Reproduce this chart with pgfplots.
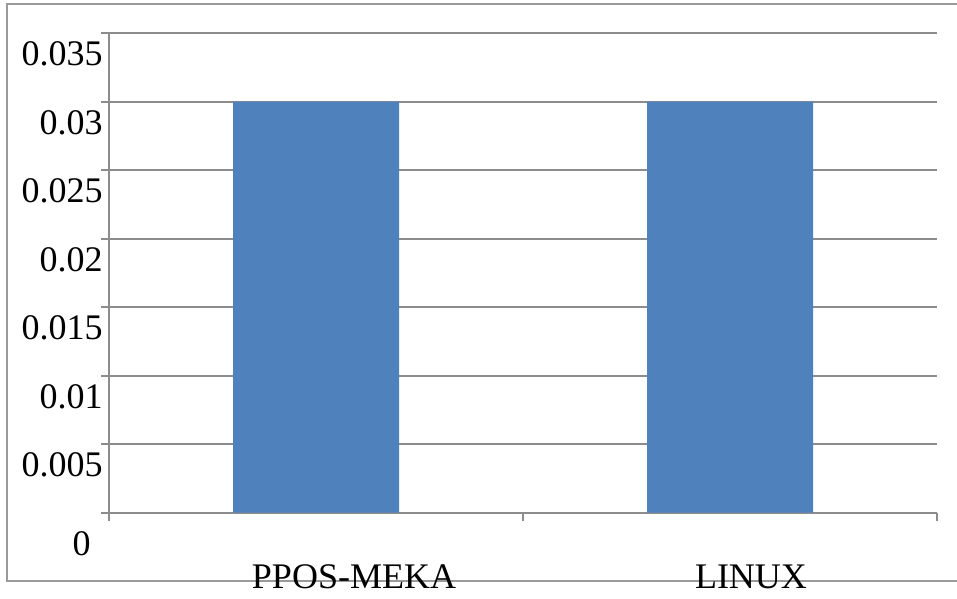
\documentclass[border=0pt]{standalone}
\usepackage{fontspec}
\setmainfont{Liberation Serif}
\usepackage{pgfplots}
\pgfplotsset{compat=1.18}
\definecolor{barblue}{HTML}{4F81BD}
\definecolor{gridgray}{HTML}{8C8C8C}
\definecolor{bordergray}{HTML}{9A9A9A}
\begin{document}
\begin{tikzpicture}
\useasboundingbox (0,0) rectangle (478.5bp,299.5bp);
\draw[bordergray, line width=1bp] (3.5bp,9.15bp) rectangle (490bp,297.5bp);
\begin{axis}[
  at={(54.5bp,43.15bp)}, anchor=south west,
  scale only axis, width=414bp, height=239.85bp,
  xmin=-0.5, xmax=1.5, ymin=0, ymax=0.035,
  axis x line=bottom, axis y line=left,
  axis line style={gridgray, line width=1bp, -},
  ytick={0.005,0.01,0.015,0.02,0.025,0.03,0.035},
  ymajorgrids, grid style={gridgray, line width=1bp},
  scaled y ticks=false,
  /pgf/number format/assume math mode=true,
  /pgf/number format/fixed, /pgf/number format/precision=3,
  tick align=outside,
  major tick length=4bp,
  tick style={gridgray, line width=1bp},
  ticklabel style={font=\fontsize{18.07pt}{21pt}\selectfont, text=black},
  yticklabel style={anchor=east, inner xsep=0pt, xshift=1bp, yshift=-10.5bp},
  extra y ticks={0}, extra y tick labels={0},
  extra y tick style={yticklabel style={xshift=-6bp, yshift=-5bp}},
  xtick={0.0918,1.0507},
  xticklabels={PPOS-MEKA,LINUX},
  xtick style={draw=none},
  xticklabel style={anchor=base, yshift=-34bp},
  extra x ticks={-0.5,0.5,1.5}, extra x tick labels={},
  extra x tick style={xtick style={draw=gridgray}, major tick length=4bp, xmajorgrids=false},
]
\addplot[ybar, bar width=83bp, fill=barblue, draw=none] coordinates {(0,0.03) (1,0.03)};
\end{axis}
\end{tikzpicture}
\end{document}
